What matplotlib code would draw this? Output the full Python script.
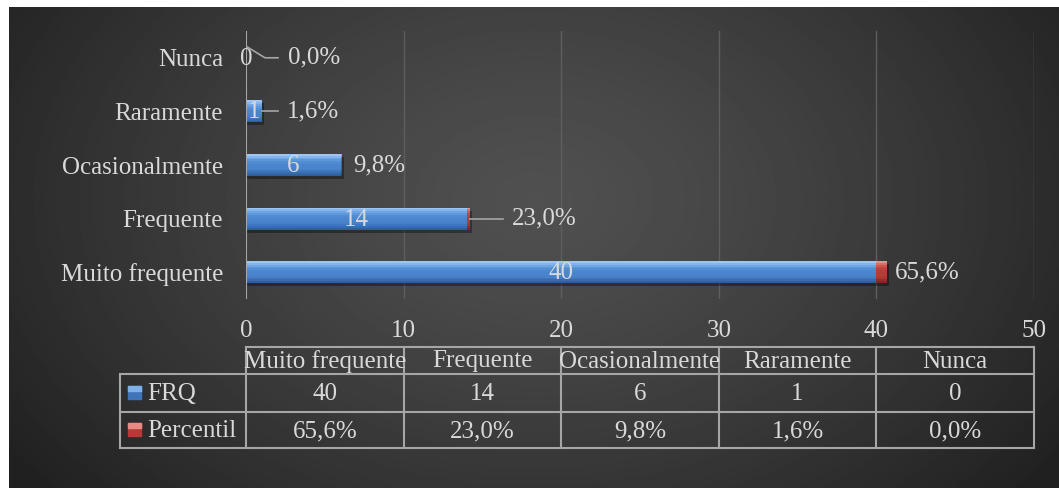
import numpy as np
import matplotlib.pyplot as plt
from matplotlib import transforms
from matplotlib.colors import to_rgb
from matplotlib.patches import Rectangle

# 数据
categorias = ['Muito frequente', 'Frequente', 'Ocasionalmente', 'Raramente', 'Nunca']
frq = [40, 14, 6, 1, 0]
percentil = [65.6, 23.0, 9.8, 1.6, 0.0]
rotulos_pct = ['65,6%', '23,0%', '9,8%', '1,6%', '0,0%']
series = ['FRQ', 'Percentil']
xticks = [0, 10, 20, 30, 40, 50]

W, H = 1059, 488
plt.rcParams['font.family'] = ['Liberation Serif', 'DejaVu Serif']
fs = 18
txt = '#d9d9d9'

fig = plt.figure(figsize=(W / 100, H / 100), dpi=100)
fig.patch.set_facecolor('white')

# 渐变背景
bg = fig.add_axes([9 / W, 0, 1 - 9 / W, (H - 7) / H])
bg.axis('off')
yy, xx = np.mgrid[0:1:300j, 0:1:600j]
d = np.sqrt(((xx - 0.5) / 0.62) ** 2 + ((yy - 0.4) / 0.95) ** 2)
val = 80 - (80 - 32) * np.clip(d, 0, 1) ** 1.3
bg.imshow(val, cmap='gray', vmin=0, vmax=255, aspect='auto', extent=[0, 1, 0, 1], origin='upper')
bg.set_xlim(0, 1)
bg.set_ylim(0, 1)

# 主图
ax = fig.add_axes([246 / W, 1 - 299 / H, (1034 - 246) / W, (299 - 31) / H])
ax.patch.set_alpha(0)
ax.set_xlim(0, 50)
ax.set_ylim(-0.5, 4.5)
for s in ax.spines.values():
    s.set_visible(False)
ax.set_xticks(xticks)
ax.set_xticklabels([str(t) for t in xticks])
ax.set_yticks(range(len(categorias)))
ax.set_yticklabels(categorias)
ax.tick_params(length=0, labelsize=fs, labelcolor=txt, pad=15)
ax.tick_params(axis='y', pad=16.5)
for t in xticks[1:]:
    ax.axvline(t, color='#5e5e5e', lw=1, zorder=0)
ax.axvline(0, color='#a6a6a6', lw=1.5, zorder=5)

y = np.arange(len(categorias))
h = 0.41
pct = np.array(percentil) / 100
frq = np.array(frq)
px = 50 / (1034 - 246)   # 数据单位/像素
py = 5 / (299 - 31)


def barra(yv, w, left, cores, z=2):
    # 立体条: 从上到下的颜色渐变
    n = 12
    stops = np.linspace(0, 1, len(cores))
    rgb = np.array([to_rgb(c) for c in cores])
    for k in range(n):
        t = (k + 0.5) / n
        col = [np.interp(t, stops, rgb[:, j]) for j in range(3)]
        ax.barh(yv + h / 2 - (k + 0.5) * h / n, w, left=left, height=h / n * 1.05,
                color=col, lw=0, zorder=z)


azul = ['#a9cff6', '#78acea', '#5590d6', '#4a84cc', '#4a84cc', '#3d72b6', '#2a5a96']
verm = ['#f0a09c', '#d45a56', '#c0423e', '#b83a36', '#b83a36', '#a0302c', '#7c2220']

# 阴影
m = frq > 0
ax.barh(y[m] - 3 * py, frq[m] + pct[m] + 2 * px, height=h, left=0, color='black', alpha=0.35, zorder=1)
barra(y, frq, 0, azul)
barra(y, pct, frq, verm)

# 条内标签
for i in range(len(categorias)):
    ax.text(frq[i] / 2, y[i] - 0.02, str(frq[i]), ha='center', va='center', color=txt, fontsize=fs, zorder=6)

# 百分比标签 (像素偏移)
off = [8, 42, 11, 25, 42]
lead = [None, [(0, 0), (33, 0)], None, [(0, 0), (16, 0)], [(1, 11), (19, 0), (32, 0)]]
for i in range(len(categorias)):
    x0 = frq[i] + pct[i]
    ax.annotate(rotulos_pct[i], (x0, y[i]), xytext=(off[i], 0), textcoords='offset pixels',
                ha='left', va='center', color=txt, fontsize=fs, zorder=6)
    if lead[i]:
        xs = [x0 + a * px for a, b in lead[i]]
        ys = [y[i] + b * py for a, b in lead[i]]
        ax.plot(xs, ys, color='#a6a6a6', lw=1.2, zorder=6, clip_on=False)

# 数据表
tr = transforms.blended_transform_factory(ax.transData, fig.transFigure)
fy = lambda p: 1 - p / H
lc = '#a6a6a6'
y_top, y_h, y_r1, y_r2 = 347, 374, 412, 448
ax.plot([0, 50], [fy(y_top)] * 2, color=lc, lw=1.5, transform=tr, clip_on=False)
for yl in [y_h, y_r1, y_r2]:
    fig.lines.append(plt.Line2D([120 / W, 1034 / W], [fy(yl)] * 2, color=lc, lw=1.5, transform=fig.transFigure))
for xt in xticks:
    ax.plot([xt, xt], [fy(y_top), fy(y_r2)], color=lc, lw=1.5, transform=tr, clip_on=False)
fig.lines.append(plt.Line2D([120 / W] * 2, [fy(y_h), fy(y_r2)], color=lc, lw=1.5, transform=fig.transFigure))

for j, c in enumerate(categorias):
    xc = xticks[j] + 5
    ax.text(xc, fy((y_top + y_h) / 2 + 1), c, ha='center', va='center', color=txt, fontsize=fs, transform=tr)
    ax.text(xc, fy((y_h + y_r1) / 2 + 1), str(frq[j]), ha='center', va='center', color=txt, fontsize=fs, transform=tr)
    ax.text(xc, fy((y_r1 + y_r2) / 2 + 1), rotulos_pct[j], ha='center', va='center', color=txt, fontsize=fs, transform=tr)

cores = [('#3f74b8', '#7eb0ea'), ('#b53a36', '#e88a86')]
for k, (s, (c1, c2)) in enumerate(zip(series, cores)):
    yc = [(y_h + y_r1) / 2, (y_r1 + y_r2) / 2][k]
    fig.patches.append(Rectangle((128 / W, fy(yc + 6)), 13 / W, 13 / H, color=c1, transform=fig.transFigure))
    fig.patches.append(Rectangle((128 / W, fy(yc - 2)), 13 / W, 5 / H, color=c2, transform=fig.transFigure))
    fig.text(147 / W, fy(yc + 1), s, ha='left', va='center', color=txt, fontsize=fs)

fig.savefig('out.png', dpi=100)
